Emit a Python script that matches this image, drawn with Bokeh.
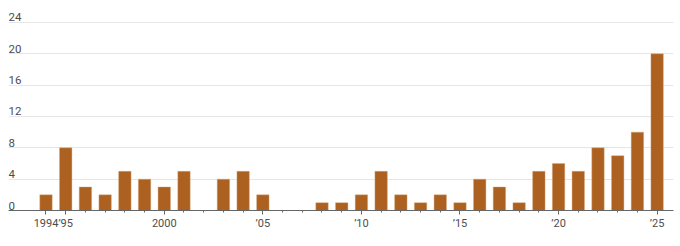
from bokeh.plotting import figure
from bokeh.models import Range1d, FixedTicker, ColumnDataSource
from bokeh.core.properties import value
from bokeh.embed import file_html
from bokeh.resources import INLINE

years = list(range(1994, 2026))
counts = [2, 8, 3, 2, 5, 4, 3, 5, 0, 4, 5, 2, 0, 0, 1, 1,
          2, 5, 2, 1, 2, 1, 4, 3, 1, 5, 6, 5, 8, 7, 10, 20]
y_ticks = [0, 4, 8, 12, 16, 20, 24]
y_tick_labels = ["0", "4", "8", "12", "16", "20", "24"]
x_label_years = [1994, 1995, 2000, 2005, 2010, 2015, 2020, 2025]
x_tick_labels = ["1994", "\u201995", "2000", "\u201905", "\u201910", "\u201915", "\u201920", "\u201925"]

BAR = "#AD6121"
FONT = "Roboto"
TXT = "#4d4d4d"

x0, x1 = 1992.098, 2025.83
p = figure(width=680, height=246, output_backend="svg", toolbar_location=None,
           x_range=Range1d(x0, x1), y_range=Range1d(0, 26.8),
           min_border_left=8, min_border_right=7, min_border_top=0, min_border_bottom=36)
p.outline_line_color = None
p.background_fill_color = "white"
p.border_fill_color = "white"

src = ColumnDataSource(dict(x=years, top=counts))
p.vbar(x="x", top="top", bottom=0, width=0.63, source=src,
       fill_color=BAR, line_color="#d9a877", line_width=0.4)

# y axis hidden, gridlines
p.yaxis.visible = False
p.ygrid.ticker = FixedTicker(ticks=y_ticks[1:])
p.ygrid.grid_line_color = "#e6e6e6"
p.ygrid.grid_line_width = 1
p.xgrid.visible = False

ysrc = ColumnDataSource(dict(x=[x0] * len(y_ticks), y=y_ticks, t=y_tick_labels))
p.text(x="x", y="y", text="t", source=ysrc, text_font=value(FONT), text_font_size="11.5px",
       text_color=TXT, text_baseline="bottom", text_align="left", y_offset=-1)

# x axis
xa = p.xaxis[0]
xa.ticker = FixedTicker(ticks=x_label_years, minor_ticks=years)
xa.major_label_overrides = {y: t for y, t in zip(x_label_years, x_tick_labels)}
xa.axis_line_color = "#666666"
xa.axis_line_width = 1
xa.major_tick_line_color = "#666666"
xa.minor_tick_line_color = "#666666"
xa.major_tick_out = 4
xa.major_tick_in = 0
xa.minor_tick_out = 2
xa.minor_tick_in = 0
xa.major_label_text_font = FONT
xa.major_label_text_font_size = "11px"
xa.major_label_text_color = TXT
xa.major_label_standoff = 2

open("out.html", "w").write(file_html(p, INLINE))
